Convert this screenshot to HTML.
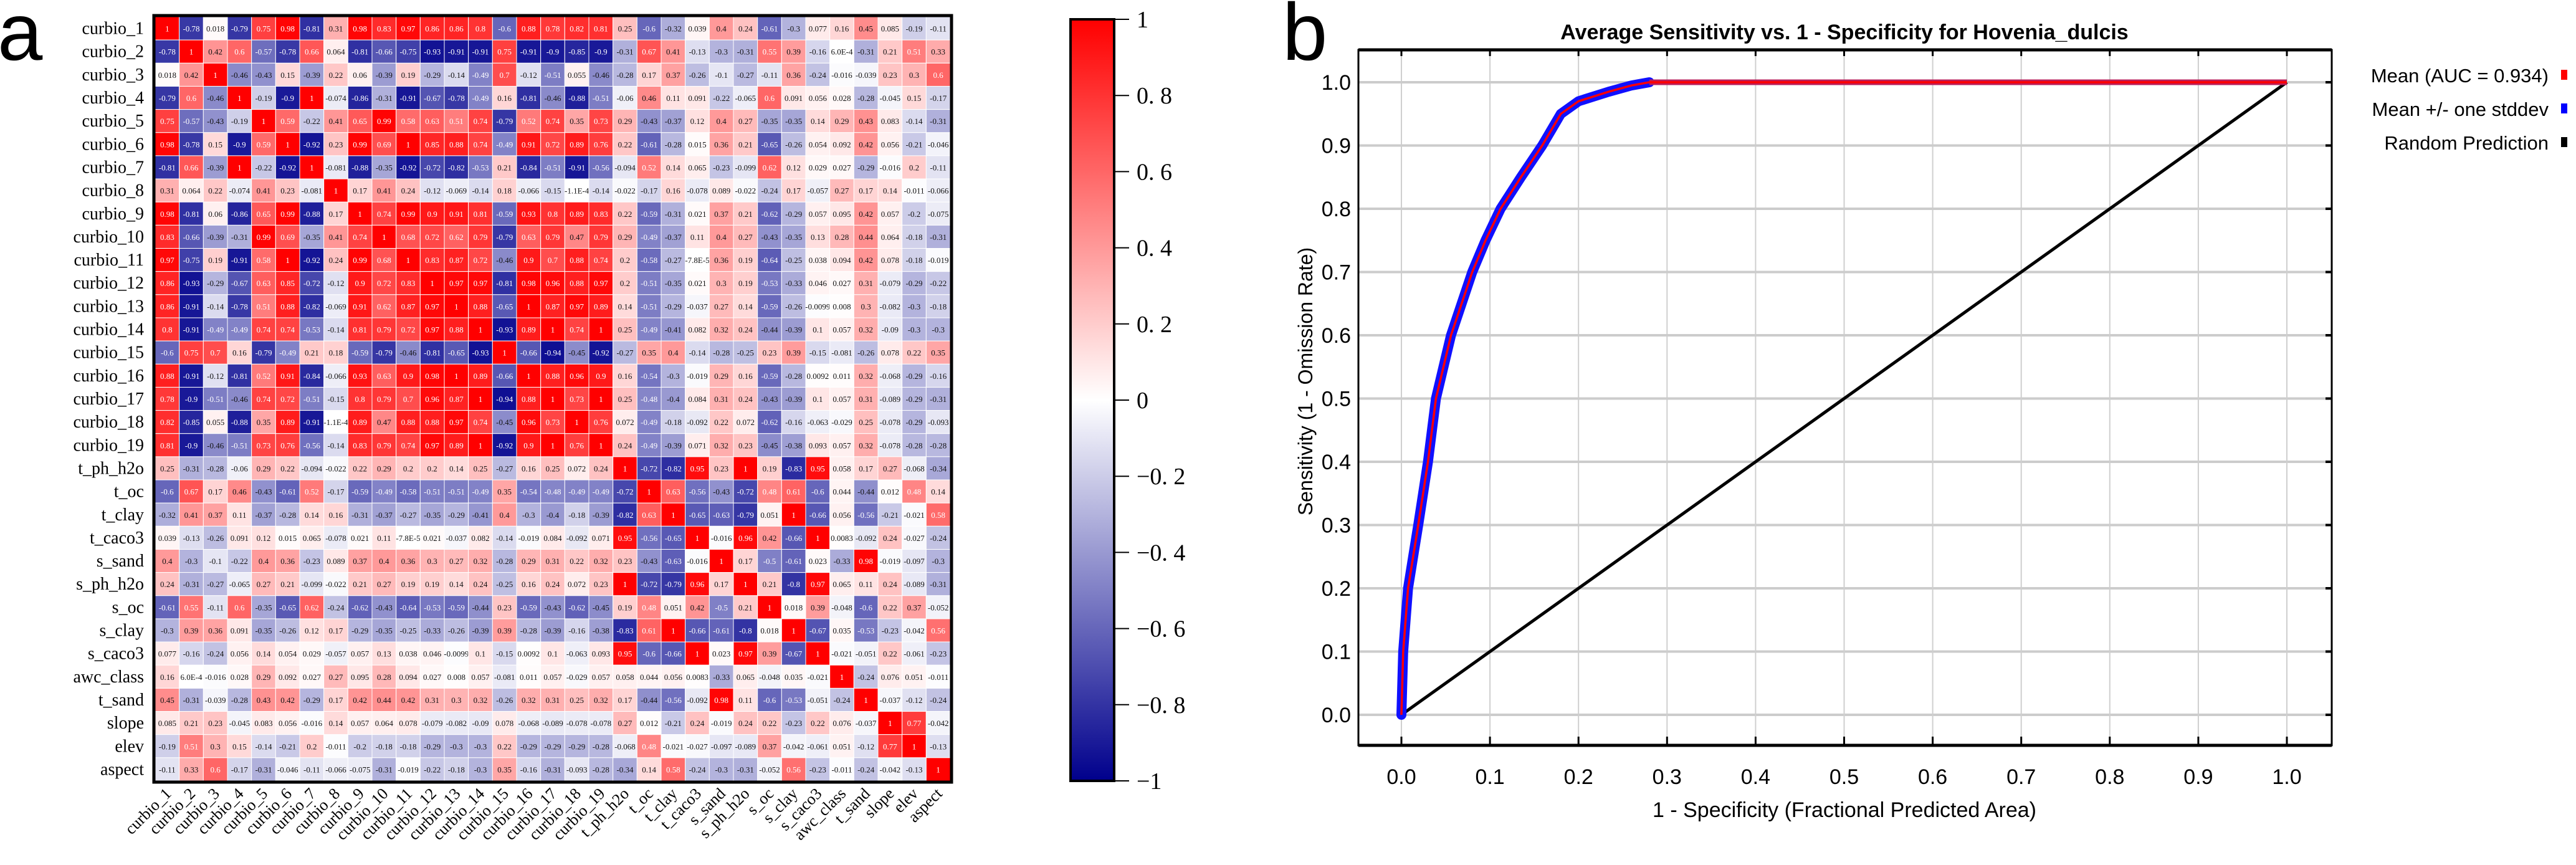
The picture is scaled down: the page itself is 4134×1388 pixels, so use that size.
<!DOCTYPE html>
<html><head><meta charset="utf-8">
<style>
html,body{margin:0;padding:0;background:#fff;}
svg{display:block;}
</style></head>
<body>
<svg id="fig" width="4134" height="1388" viewBox="0 0 4134 1388" xmlns="http://www.w3.org/2000/svg">
  <text x="-4" y="96" font-family="Liberation Sans, sans-serif" font-size="130">a</text>
  <text x="2058" y="96" font-family="Liberation Sans, sans-serif" font-size="130">b</text>
  <g id="heat"></g>
  <g id="cbar"></g>
  <g id="roc"></g>
</svg>
<script>
// ---------- Heatmap data ----------
const variables = ["curbio_1","curbio_2","curbio_3","curbio_4","curbio_5","curbio_6","curbio_7","curbio_8","curbio_9","curbio_10","curbio_11","curbio_12","curbio_13","curbio_14","curbio_15","curbio_16","curbio_17","curbio_18","curbio_19","t_ph_h2o","t_oc","t_clay","t_caco3","s_sand","s_ph_h2o","s_oc","s_clay","s_caco3","awc_class","t_sand","slope","elev","aspect"];
const corrLower = [
[1],
[-0.78,1],
[0.018,0.42,1],
[-0.79,0.6,-0.46,1],
[0.75,-0.57,-0.43,-0.19,1],
[0.98,-0.78,0.15,-0.9,0.59,1],
[-0.81,0.66,-0.39,1,-0.22,-0.92,1],
[0.31,0.064,0.22,-0.074,0.41,0.23,-0.081,1],
[0.98,-0.81,0.06,-0.86,0.65,0.99,-0.88,0.17,1],
[0.83,-0.66,-0.39,-0.31,0.99,0.69,-0.35,0.41,0.74,1],
[0.97,-0.75,0.19,-0.91,0.58,1,-0.92,0.24,0.99,0.68,1],
[0.86,-0.93,-0.29,-0.67,0.63,0.85,-0.72,-0.12,0.9,0.72,0.83,1],
[0.86,-0.91,-0.14,-0.78,0.51,0.88,-0.82,-0.069,0.91,0.62,0.87,0.97,1],
[0.8,-0.91,-0.49,-0.49,0.74,0.74,-0.53,-0.14,0.81,0.79,0.72,0.97,0.88,1],
[-0.6,0.75,0.7,0.16,-0.79,-0.49,0.21,0.18,-0.59,-0.79,-0.46,-0.81,-0.65,-0.93,1],
[0.88,-0.91,-0.12,-0.81,0.52,0.91,-0.84,-0.066,0.93,0.63,0.9,0.98,1,0.89,-0.66,1],
[0.78,-0.9,-0.51,-0.46,0.74,0.72,-0.51,-0.15,0.8,0.79,0.7,0.96,0.87,1,-0.94,0.88,1],
[0.82,-0.85,0.055,-0.88,0.35,0.89,-0.91,-1.1e-4,0.89,0.47,0.88,0.88,0.97,0.74,-0.45,0.96,0.73,1],
[0.81,-0.9,-0.46,-0.51,0.73,0.76,-0.56,-0.14,0.83,0.79,0.74,0.97,0.89,1,-0.92,0.9,1,0.76,1],
[0.25,-0.31,-0.28,-0.06,0.29,0.22,-0.094,-0.022,0.22,0.29,0.2,0.2,0.14,0.25,-0.27,0.16,0.25,0.072,0.24,1],
[-0.6,0.67,0.17,0.46,-0.43,-0.61,0.52,-0.17,-0.59,-0.49,-0.58,-0.51,-0.51,-0.49,0.35,-0.54,-0.48,-0.49,-0.49,-0.72,1],
[-0.32,0.41,0.37,0.11,-0.37,-0.28,0.14,0.16,-0.31,-0.37,-0.27,-0.35,-0.29,-0.41,0.4,-0.3,-0.4,-0.18,-0.39,-0.82,0.63,1],
[0.039,-0.13,-0.26,0.091,0.12,0.015,0.065,-0.078,0.021,0.11,-7.8e-5,0.021,-0.037,0.082,-0.14,-0.019,0.084,-0.092,0.071,0.95,-0.56,-0.65,1],
[0.4,-0.3,-0.1,-0.22,0.4,0.36,-0.23,0.089,0.37,0.4,0.36,0.3,0.27,0.32,-0.28,0.29,0.31,0.22,0.32,0.23,-0.43,-0.63,-0.016,1],
[0.24,-0.31,-0.27,-0.065,0.27,0.21,-0.099,-0.022,0.21,0.27,0.19,0.19,0.14,0.24,-0.25,0.16,0.24,0.072,0.23,1,-0.72,-0.79,0.96,0.17,1],
[-0.61,0.55,-0.11,0.6,-0.35,-0.65,0.62,-0.24,-0.62,-0.43,-0.64,-0.53,-0.59,-0.44,0.23,-0.59,-0.43,-0.62,-0.45,0.19,0.48,0.051,0.42,-0.5,0.21,1],
[-0.3,0.39,0.36,0.091,-0.35,-0.26,0.12,0.17,-0.29,-0.35,-0.25,-0.33,-0.26,-0.39,0.39,-0.28,-0.39,-0.16,-0.38,-0.83,0.61,1,-0.66,-0.61,-0.8,0.018,1],
[0.077,-0.16,-0.24,0.056,0.14,0.054,0.029,-0.057,0.057,0.13,0.038,0.046,-0.0099,0.1,-0.15,0.0092,0.1,-0.063,0.093,0.95,-0.6,-0.66,1,0.023,0.97,0.39,-0.67,1],
[0.16,6e-4,-0.016,0.028,0.29,0.092,0.027,0.27,0.095,0.28,0.094,0.027,0.008,0.057,-0.081,0.011,0.057,-0.029,0.057,0.058,0.044,0.056,0.0083,-0.33,0.065,-0.048,0.035,-0.021,1],
[0.45,-0.31,-0.039,-0.28,0.43,0.42,-0.29,0.17,0.42,0.44,0.42,0.31,0.3,0.32,-0.26,0.32,0.31,0.25,0.32,0.17,-0.44,-0.56,-0.092,0.98,0.11,-0.6,-0.53,-0.051,-0.24,1],
[0.085,0.21,0.23,-0.045,0.083,0.056,-0.016,0.14,0.057,0.064,0.078,-0.079,-0.082,-0.09,0.078,-0.068,-0.089,-0.078,-0.078,0.27,0.012,-0.21,0.24,-0.019,0.24,0.22,-0.23,0.22,0.076,-0.037,1],
[-0.19,0.51,0.3,0.15,-0.14,-0.21,0.2,-0.011,-0.2,-0.18,-0.18,-0.29,-0.3,-0.3,0.22,-0.29,-0.29,-0.29,-0.28,-0.068,0.48,-0.021,-0.027,-0.097,-0.089,0.37,-0.042,-0.061,0.051,-0.12,0.77,1],
[-0.11,0.33,0.6,-0.17,-0.31,-0.046,-0.11,-0.066,-0.075,-0.31,-0.019,-0.22,-0.18,-0.3,0.35,-0.16,-0.31,-0.093,-0.28,-0.34,0.14,0.58,-0.24,-0.3,-0.31,-0.052,0.56,-0.23,-0.011,-0.24,-0.042,-0.13,1]
];
const colorbarTicks = [1,0.8,0.6,0.4,0.2,0,-0.2,-0.4,-0.6,-0.8,-1];

// ---------- ROC data ----------
const meanFpr = [0,0.002,0.0075,0.019,0.03,0.039,0.056,0.08,0.095,0.112,0.135,0.159,0.18,0.2,0.234,0.26,0.28,1];
const meanTpr = [0,0.1,0.2,0.3,0.4,0.5,0.6,0.7,0.75,0.8,0.85,0.9,0.95,0.97,0.985,0.995,1,1];
const randomFpr = [0,1];
const randomTpr = [0,1];
const rocTicks = [0,0.1,0.2,0.3,0.4,0.5,0.6,0.7,0.8,0.9,1.0];
const legendLabels = ["Mean (AUC = 0.934)","Mean +/- one stddev","Random Prediction"];
const legendColors = ["#ff0000","#0000ff","#000000"];

const NS = "http://www.w3.org/2000/svg";
function mk(tag, attrs, parent){ const e=document.createElementNS(NS,tag); for(const k in attrs) e.setAttribute(k,attrs[k]); if(parent) parent.appendChild(e); return e; }

// ---------- heatmap ----------
const H = {x0:249, y0:27, x1:1525, y1:1253};
const n = variables.length;
const cw = (H.x1-H.x0)/n, ch = (H.y1-H.y0)/n;
function corr(i,j){ return i>=j ? corrLower[i][j] : corrLower[j][i]; }
function colorOf(v){
  v=Math.max(-1,Math.min(1,v));
  if(v>=0){ const t=v; return `rgb(255,${Math.round(255*(1-t))},${Math.round(255*(1-t))})`; }
  const t=-v; return `rgb(${Math.round(255*(1-t))},${Math.round(255*(1-t))},${Math.round(255-(255-140)*t)})`;
}
function fmt(v){
  if(v===1) return "1";
  if(Math.abs(v)<0.001 && v!==0){ return v.toExponential(1).replace("e","E").replace("+",""); }
  return String(v);
}
const heat = document.getElementById('heat');
for(let i=0;i<n;i++){
  for(let j=0;j<n;j++){
    const v = corr(i,j);
    const r = mk('rect',{x:H.x0+j*cw, y:H.y0+i*ch, width:cw, height:ch, fill:colorOf(v), stroke:'#ffffff','stroke-width':1},heat);
    
    
    const t = mk('text',{x:H.x0+j*cw+cw/2, y:H.y0+i*ch+ch/2+5, 'text-anchor':'middle','font-family':'Liberation Serif, serif','font-size':13, fill: Math.abs(v)>=0.48?'#ffffff':'#111111'},heat);
    
    
    t.textContent = fmt(v);
  }
}
const hb = mk('rect',{x:H.x0-2,y:H.y0-2,width:H.x1-H.x0+4,height:H.y1-H.y0+4,fill:'none',stroke:'#000','stroke-width':5},heat);


for(let i=0;i<n;i++){
  const t = mk('text',{x:H.x0-18, y:H.y0+i*ch+ch/2+9,'text-anchor':'end','font-family':'Liberation Serif, serif','font-size':28,fill:'#000'},heat);
  
  
  t.textContent = variables[i];
  const cx = H.x0+j0(i)*cw+cw/2+8, cy = H.y1+22;
  const c = mk('text',{x:cx, y:cy,'text-anchor':'end','font-family':'Liberation Serif, serif','font-size':26,fill:'#000',transform:`rotate(-45 ${cx} ${cy})`},heat);
  
  
  c.textContent = variables[i];
}
function j0(i){ return i; }

// ---------- colorbar ----------
const CB = {x0:1718, x1:1788, y0:31, y1:1253};
const cbar = document.getElementById('cbar');
const defs = mk('defs',{},cbar);
const grad = mk('linearGradient',{id:'cg',x1:0,y1:0,x2:0,y2:1},defs);
for(let k=0;k<=20;k++){ const v=1-k/10; mk('stop',{offset:(k/20), 'stop-color':colorOf(v)},grad); }
const cbr = mk('rect',{x:CB.x0,y:CB.y0,width:CB.x1-CB.x0,height:CB.y1-CB.y0,fill:'url(#cg)',stroke:'#000','stroke-width':4},cbar);


function cbY(v){ return CB.y0 + (1-v)/2*(CB.y1-CB.y0); }
colorbarTicks.forEach(v=>{
  const y=cbY(v);
  const l = mk('line',{x1:CB.x1,x2:CB.x1+24,y1:y,y2:y,stroke:'#000','stroke-width':2},cbar);
  
  
  const t = mk('text',{x:CB.x1+36,y:y+13,'font-family':'Liberation Serif, serif','font-size':38,fill:'#000'},cbar);
  
  
  t.textContent = v===0?'0':(v<0?'\u2212':'')+String(Math.abs(v)).replace('.', '. ');
});

// ---------- ROC ----------
const P = {left:2180,right:3742,top:80,bottom:1196};
const X0=2249, X1=3670, Y0=1147, Y1=132;
function sx(v){ return X0+v*(X1-X0); }
function sy(v){ return Y0-v*(Y0-Y1); }
const roc = document.getElementById('roc');
const ttl = mk('text',{x:2960,y:63,'text-anchor':'middle','font-family':'Liberation Sans, sans-serif','font-size':34,'font-weight':'bold',fill:'#000'},roc);


ttl.textContent='Average Sensitivity vs. 1 - Specificity for Hovenia_dulcis';
rocTicks.forEach(v=>{
  const gv = mk('line',{x1:sx(v),x2:sx(v),y1:P.top,y2:P.bottom,stroke:'#cfcfcf','stroke-width':2},roc);
  
  
  const gh = mk('line',{x1:P.left,x2:P.right,y1:sy(v),y2:sy(v),stroke:'#cccccc','stroke-width':4},roc);
  
  
  const tt = mk('line',{x1:sx(v),x2:sx(v),y1:P.top,y2:P.top+10,stroke:'#000','stroke-width':3},roc);
  
  
  const tb = mk('line',{x1:sx(v),x2:sx(v),y1:P.bottom-14,y2:P.bottom,stroke:'#000','stroke-width':3},roc);
  
  
  const tr = mk('line',{x1:P.right-10,x2:P.right,y1:sy(v),y2:sy(v),stroke:'#000','stroke-width':4},roc);
  
  
  const xl = mk('text',{x:sx(v),y:1258,'text-anchor':'middle','font-family':'Liberation Sans, sans-serif','font-size':34,fill:'#000'},roc);
  
  
  xl.textContent=v.toFixed(1);
  const yl = mk('text',{x:2168,y:sy(v)+12,'text-anchor':'end','font-family':'Liberation Sans, sans-serif','font-size':34,fill:'#000'},roc);
  
  
  yl.textContent=v.toFixed(1);
});
const box = mk('rect',{x:P.left,y:P.top,width:P.right-P.left,height:P.bottom-P.top,fill:'none',stroke:'#000','stroke-width':3},roc);


mk('line',{x1:P.left,x2:P.right,y1:P.top,y2:P.top,stroke:'#000','stroke-width':5},roc);
mk('line',{x1:P.left,x2:P.right,y1:P.bottom,y2:P.bottom,stroke:'#000','stroke-width':5},roc);

const rl = mk('polyline',{points:randomFpr.map((v,i)=>sx(v)+','+sy(randomTpr[i])).join(' '),fill:'none',stroke:'#000','stroke-width':5},roc);


const curvePts = meanFpr.map((v,i)=>sx(v)+','+sy(meanTpr[i]));
const steep = curvePts.slice(0, meanFpr.length-1).join(' ');
const band = mk('polyline',{points:steep,fill:'none',stroke:'#1010ff','stroke-width':16,'stroke-linejoin':'round','stroke-linecap':'round'},roc);


const flatIdx = meanFpr.length-2;
const flat = mk('line',{x1:sx(meanFpr[flatIdx]),y1:sy(meanTpr[flatIdx]),x2:sx(meanFpr[flatIdx+1]),y2:sy(meanTpr[flatIdx+1]),stroke:'#b81e5a','stroke-width':9},roc);


const ml = mk('polyline',{points:curvePts.join(' '),fill:'none',stroke:'#ff0000','stroke-width':3.5,'stroke-linejoin':'round'},roc);



legendLabels.forEach((lab,i)=>{
  const y = 120 + i*54;
  const t = mk('text',{x:4090,y:y+12,'text-anchor':'end','font-family':'Liberation Sans, sans-serif','font-size':31,fill:'#000'},roc);
  
  
  t.textContent = lab;
  const s = mk('rect',{x:4110,y:y-8,width:10,height:16,fill:legendColors[i]},roc);
  
  
});
const xt = mk('text',{x:2960,y:1311,'text-anchor':'middle','font-family':'Liberation Sans, sans-serif','font-size':34,fill:'#000'},roc);


xt.textContent='1 - Specificity (Fractional Predicted Area)';
const yt = mk('text',{x:2106,y:612,'text-anchor':'middle','font-family':'Liberation Sans, sans-serif','font-size':32,fill:'#000',transform:'rotate(-90 2106 612)'},roc);


yt.textContent='Sensitivity (1 - Omission Rate)';
</script>
</body></html>
